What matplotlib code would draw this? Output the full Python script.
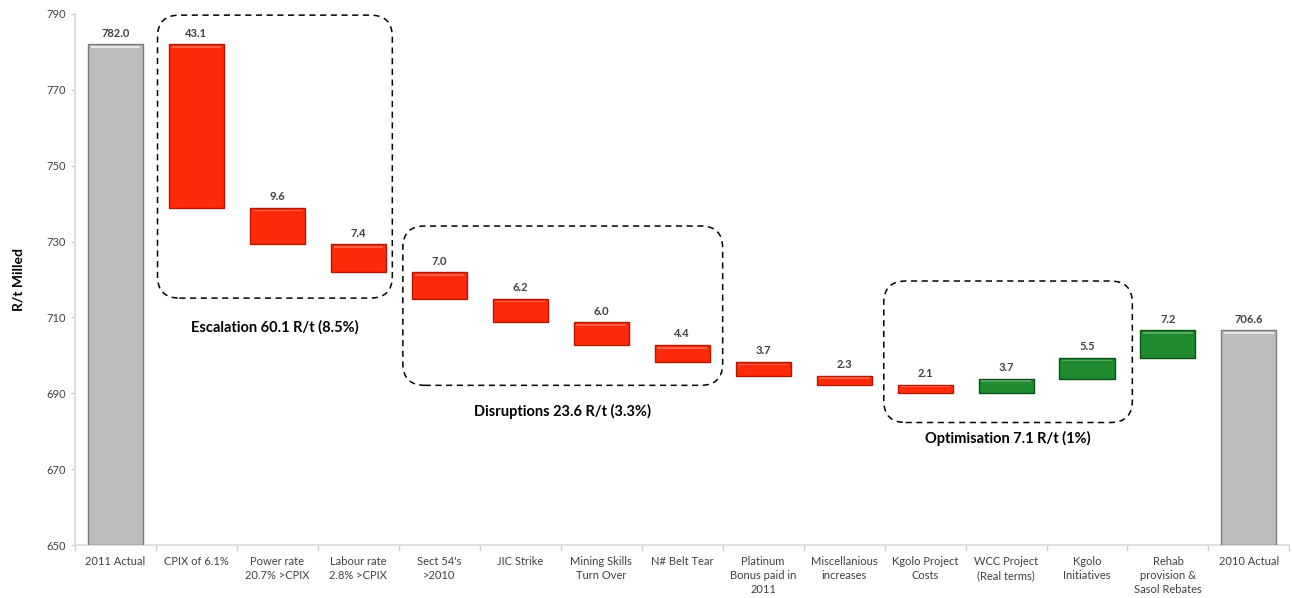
import numpy as np
import matplotlib.pyplot as plt
from matplotlib.patches import FancyBboxPatch

plt.rcParams['font.family'] = ['Lato', 'DejaVu Sans']

# ---------------------------------------------------------------
# DATA
# ---------------------------------------------------------------
categories = [
    "2011 Actual", "CPIX of 6.1%", "Power rate\n20.7% >CPIX", "Labour rate\n2.8% >CPIX",
    "Sect 54's\n>2010", "JIC Strike", "Mining Skills\nTurn Over", "N# Belt Tear",
    "Platinum\nBonus paid in\n2011", "Miscellanious\nincreases", "Kgolo Project\nCosts",
    "WCC Project\n(Real terms)", "Kgolo\nInitiatives", "Rehab\nprovision &\nSasol Rebates",
    "2010 Actual",
]
start_value = 782.0
end_value = 706.6
# step sizes between the two totals (cost reductions negative, increases positive)
deltas = [-43.1, -9.6, -7.4, -7.0, -6.2, -6.0, -4.4, -3.7, -2.3, -2.1, 3.7, 5.5, 7.2]

groups = [
    ("Escalation 60.1 R/t (8.5%)", 1, 3),
    ("Disruptions 23.6 R/t (3.3%)", 4, 7),
    ("Optimisation 7.1 R/t (1%)", 10, 12),
]

# ---------------------------------------------------------------
# STYLE
# ---------------------------------------------------------------
GREY, GREY_EDGE = "#bcbcbc", "#7a7a7a"
RED, RED_EDGE = "#ff2a0a", "#b01800"
GREEN, GREEN_EDGE = "#1f8a2e", "#0d4f17"
TEXT = "#404040"
YMIN, YMAX = 650, 790
BAR_W = 0.68

fig = plt.figure(figsize=(12.92, 5.98), dpi=100)
ax = fig.add_axes([0.058, 0.0886, 0.940, 0.888])

# ---------------------------------------------------------------
# WATERFALL BARS
# ---------------------------------------------------------------
levels = start_value + np.concatenate([[0], np.cumsum(deltas)])
x = np.arange(len(categories))

# totals
for xi, val in [(0, start_value), (len(categories) - 1, end_value)]:
    ax.bar(xi, val - YMIN, bottom=YMIN, width=BAR_W, color=GREY,
           edgecolor=GREY_EDGE, linewidth=1.0, zorder=3)
    ax.bar(xi, 0.5, bottom=val - 0.9, width=BAR_W * 0.9, color="#e6e6e6",
           linewidth=0, zorder=4)
    ax.text(xi, val + 1.5, f"{val:.1f}", ha="center", va="bottom",
            fontsize=8, fontweight="bold", color=TEXT)

# steps
for i, d in enumerate(deltas):
    xi = i + 1
    lo = min(levels[i], levels[i + 1])
    hi = max(levels[i], levels[i + 1])
    face, edge = (RED, RED_EDGE) if d < 0 else (GREEN, GREEN_EDGE)
    ax.bar(xi, hi - lo, bottom=lo, width=BAR_W, color=face,
           edgecolor=edge, linewidth=1.0, zorder=3)
    ax.bar(xi, min(0.4, (hi - lo) * 0.2), bottom=hi - min(0.9, (hi - lo) * 0.35),
           width=BAR_W * 0.9, color="white", alpha=0.25, linewidth=0, zorder=4)
    ax.text(xi, hi + 1.5, f"{abs(d):.1f}", ha="center", va="bottom",
            fontsize=8, fontweight="bold", color=TEXT)

# ---------------------------------------------------------------
# GROUP BOXES
# ---------------------------------------------------------------
box_y = {0: (715.1, 789.7), 1: (692.1, 734.1), 2: (682.3, 719.6)}
label_y = {0: 707.4, 1: 685.3, 2: 678.2}
px_per_x = 81.0
px_per_y = 531.0 / (YMAX - YMIN)
aspect = px_per_x / px_per_y

for k, (label, first, last) in enumerate(groups):
    x0 = first - 0.48
    x1 = last + 0.42 if k == 0 else last + 0.5
    if k == 1:
        x0 = first - 0.45
    if k == 2:
        x0 = first - 0.51
        x1 = last + 0.56
    y0, y1 = box_y[k]
    box = FancyBboxPatch((x0, y0), x1 - x0, y1 - y0,
                         boxstyle="round,pad=0,rounding_size=0.27",
                         mutation_aspect=aspect, fill=False,
                         edgecolor="black", linewidth=1.1,
                         linestyle=(0, (4, 3)), zorder=5)
    ax.add_patch(box)
    ax.text((x0 + x1) / 2, label_y[k], label, ha="center", va="center",
            fontsize=10.5, fontweight="bold", color="black")

# ---------------------------------------------------------------
# AXES
# ---------------------------------------------------------------
ax.set_xlim(-0.5, len(categories) - 0.5)
ax.set_ylim(YMIN, YMAX)
ax.set_yticks(np.arange(YMIN, YMAX + 1, 20))
ax.tick_params(axis="y", labelsize=8, colors="#d0d0d0", labelcolor=TEXT,
               length=3, width=1)
ax.set_xticks(x)
ax.set_xticklabels(categories, fontsize=8, color=TEXT, linespacing=1.35)
ax.set_xticks(np.arange(-0.5, len(categories), 1), minor=True)
ax.tick_params(axis="x", which="major", length=0, pad=8)
ax.tick_params(axis="x", which="minor", length=4, width=1, colors="#d0d0d0")
for side in ("top", "right"):
    ax.spines[side].set_visible(False)
for side in ("left", "bottom"):
    ax.spines[side].set_color("#d9d9d9")
    ax.spines[side].set_linewidth(1.2)

ax.set_ylabel("R/t Milled", fontsize=10, fontweight="bold", color="black",
              labelpad=16)

fig.savefig("out.png", dpi=100)
